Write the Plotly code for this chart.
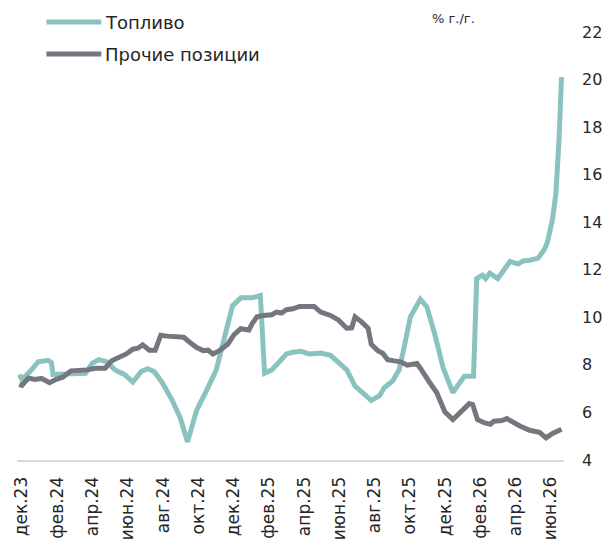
import plotly.graph_objects as go

# time axis: months since Dec 2023 (0 = дек.23)
fuel_t = [-0.15, 0.0, 0.46, 0.92, 1.48, 1.67, 1.76, 2.13, 2.59, 3.06, 3.61, 3.98, 4.35, 4.81,
          5.28, 5.83, 6.29, 6.76, 7.13, 7.5, 7.96, 8.52, 8.98, 9.39, 9.91, 10.46, 11.02,
          11.48, 11.94, 12.41, 13.06, 13.52, 13.76, 14.17, 14.53, 15.0, 15.37, 15.83, 16.29,
          16.94, 17.5, 18.06, 18.42, 18.89, 19.35, 19.81, 20.28, 20.56, 21.02, 21.39, 21.67,
          22.03, 22.59, 22.96, 23.42, 23.89, 24.44, 25.09, 25.61, 25.79, 26.11, 26.29, 26.53,
          26.98, 27.31, 27.68, 28.14, 28.42, 28.79, 29.26, 29.63, 29.81, 30.09, 30.28, 30.46, 30.6]
fuel_v = [7.59, 7.39, 7.72, 8.13, 8.19, 8.1, 7.6, 7.6, 7.65, 7.6, 7.65, 8.06, 8.22, 8.13,
          7.79, 7.59, 7.28, 7.72, 7.84, 7.72, 7.25, 6.51, 5.77, 4.76, 6.10, 6.91, 7.79,
          9.14, 10.48, 10.82, 10.82, 10.92, 7.65, 7.79, 8.06, 8.46, 8.53, 8.57, 8.46,
          8.50, 8.40, 8.06, 7.79, 7.11, 6.78, 6.51, 6.71, 7.05, 7.32, 7.79, 8.73,
          10.02, 10.76, 10.45, 9.27, 7.86, 6.84, 7.52, 7.52, 11.63, 11.77, 11.63, 11.86,
          11.63, 11.97, 12.35, 12.24, 12.37, 12.40, 12.48, 12.85, 13.18, 14.13, 15.2, 17.5, 20.1]

other_t = [-0.15, 0.0, 0.37, 0.74, 1.11, 1.57, 1.94, 2.31, 2.78, 3.24, 3.7, 4.17, 4.72, 5.09,
           5.56, 5.92, 6.29, 6.57, 6.85, 7.22, 7.56, 7.87, 8.24, 8.7, 9.17, 9.53, 9.91, 10.28,
           10.56, 10.83, 11.2, 11.67, 12.03, 12.41, 12.87, 13.06, 13.33, 13.7, 14.17, 14.44,
           14.72, 15.0, 15.37, 15.74, 16.57, 16.94, 17.5, 17.96, 18.42, 18.7, 18.89, 19.26,
           19.63, 19.81, 20.18, 20.46, 20.74, 21.11, 21.48, 21.85, 22.4, 22.59, 22.87, 23.13,
           23.52, 23.98, 24.44, 24.91, 25.37, 25.56, 25.83, 26.2, 26.57, 26.76, 27.22, 27.5,
           27.87, 28.24, 28.79, 29.35, 29.72, 30.09, 30.6]
other_v = [7.18, 7.14, 7.45, 7.39, 7.43, 7.25, 7.39, 7.48, 7.75, 7.75, 7.79, 7.86, 7.86, 8.17,
           8.33, 8.46, 8.66, 8.70, 8.84, 8.62, 8.62, 9.25, 9.21, 9.21, 9.16, 8.94, 8.73, 8.60,
           8.62, 8.46, 8.60, 8.87, 9.27, 9.52, 9.47, 9.74, 10.02, 10.08, 10.11, 10.22,
           10.18, 10.32, 10.36, 10.46, 10.46, 10.22, 10.08, 9.88, 9.54, 9.56, 10.02, 9.81,
           9.54, 8.87, 8.60, 8.49, 8.22, 8.17, 8.13, 7.99, 8.06, 7.86, 7.52, 7.25,
           6.84, 6.03, 5.70, 6.03, 6.37, 6.33, 5.70, 5.57, 5.50, 5.63, 5.66, 5.74,
           5.57, 5.43, 5.25, 5.16, 4.93, 5.12, 5.29]

tick_months = list(range(0, 31, 2))
tick_labels = ["дек.23", "фев.24", "апр.24", "июн.24", "авг.24", "окт.24", "дек.24", "фев.25",
               "апр.25", "июн.25", "авг.25", "окт.25", "дек.25", "фев.26", "апр.26", "июн.26"]
y_ticks = list(range(4, 23, 2))

series_names = ["Топливо", "Прочие позиции"]
colors = ["#8ac2bf", "#75777e"]

FONT = "DejaVu Sans"
W, H = 614, 552
ML, MR, MT, MB = 17, 39, 32, 75

fig = go.Figure()
fig.add_trace(go.Scatter(x=fuel_t, y=fuel_v, mode="lines", name=series_names[0],
                         line=dict(color=colors[0], width=5), showlegend=False,
                         hoverinfo="skip"))
fig.add_trace(go.Scatter(x=other_t, y=other_v, mode="lines", name=series_names[1],
                         line=dict(color=colors[1], width=5), showlegend=False,
                         hoverinfo="skip"))

pw, ph = W - ML - MR, H - MT - MB
def px(x):
    return (x - ML) / pw
def py(y):
    return (H - MB - y) / ph

shapes = []
annots = []
for i, (nm, c) in enumerate(zip(series_names, colors)):
    yy = [21.7, 55][i]
    shapes.append(dict(type="line", xref="paper", yref="paper", x0=px(47), x1=px(103),
                       y0=py(yy), y1=py(yy), line=dict(color=c, width=5)))
    annots.append(dict(xref="paper", yref="paper", x=px(105), y=py(yy), text=nm,
                       showarrow=False, xanchor="left", yanchor="middle",
                       font=dict(family=FONT, size=18, color="#262626")))
annots.append(dict(xref="paper", yref="paper", x=px(462), y=py(18), text="% г./г.",
                   showarrow=False, xanchor="center", yanchor="middle",
                   font=dict(family=FONT, size=13, color="#262626")))

fig.update_layout(
    width=W, height=H,
    margin=dict(l=ML, r=MR, t=MT, b=MB, pad=0),
    paper_bgcolor="white", plot_bgcolor="white",
    font=dict(family=FONT, size=16, color="#262626"),
    shapes=shapes, annotations=annots,
    xaxis=dict(range=[-0.28, 30.74], tickvals=tick_months, ticktext=tick_labels,
               tickangle=-90, showgrid=False, zeroline=False, showline=True,
               linecolor="#d9d9d9", linewidth=2, ticks="", ticklabelstandoff=8,
               tickfont=dict(size=17)),
    yaxis=dict(range=[4, 22], tickvals=y_ticks, side="right", showgrid=False,
               zeroline=False, showline=False, ticks="", ticklabelstandoff=17,
               tickfont=dict(size=16)),
)

fig.write_html(
    "out.html",
    config={"displayModeBar": False},
    post_script="document.body.style.margin='0';document.body.style.overflow='hidden';",
)
